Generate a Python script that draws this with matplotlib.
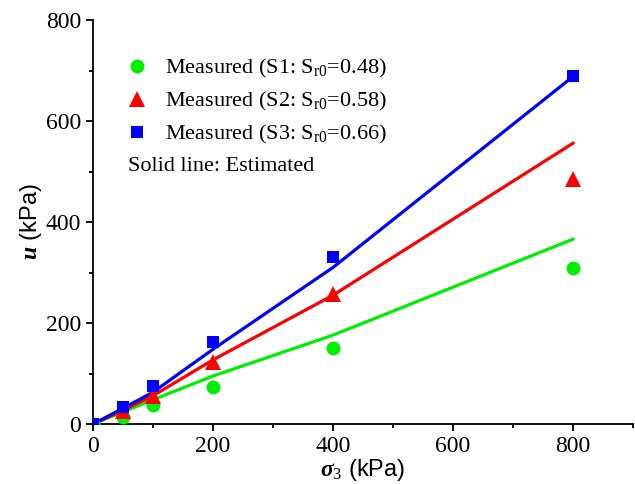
import matplotlib
matplotlib.use("Agg")
import matplotlib.pyplot as plt
from matplotlib.ticker import MultipleLocator

plt.rcParams["font.family"] = ["Liberation Serif", "DejaVu Serif"]
plt.rcParams["mathtext.fontset"] = "custom"
plt.rcParams["mathtext.rm"] = "Liberation Serif"
plt.rcParams["mathtext.it"] = "Liberation Serif:italic"
plt.rcParams["mathtext.bf"] = "Liberation Serif:bold"
plt.rcParams["mathtext.bfit"] = "Liberation Serif:italic:bold"

# confining pressure (kPa)
sigma3 = [0, 50, 100, 200, 400, 800]

# measured pore pressure (kPa)
meas_s1 = [0, 14, 37, 73, 150, 309]
meas_s2 = [0, 25, 55, 122, 257, 485]
meas_s3 = [0, 33, 75, 162, 331, 690]

# estimated (solid lines)
est_s1 = [0, 24, 48, 95, 176, 366]
est_s2 = [0, 27, 56, 127, 255, 556]
est_s3 = [0, 31, 63, 148, 310, 688]

labels = ["Measured (S1: S$_{\\mathrm{r0}}$=0.48)",
          "Measured (S2: S$_{\\mathrm{r0}}$=0.58)",
          "Measured (S3: S$_{\\mathrm{r0}}$=0.66)"]
colors = ["#00EE00", "#FF0000", "#0000FF"]
markers = ["o", "^", "s"]
msizes = [10, 11, 9]

fig = plt.figure(figsize=(6.35, 4.84), dpi=100)
ax = fig.add_axes([93 / 635, 60 / 484, 540 / 635, 404 / 484])

handles = []
for meas, est, c, m, ms, lab in zip([meas_s1, meas_s2, meas_s3],
                                    [est_s1, est_s2, est_s3],
                                    colors, markers, msizes, labels):
    ax.plot(sigma3, est, color=c, lw=2.3, zorder=2)
    h, = ax.plot(sigma3, meas, linestyle="none", marker=m, markersize=ms,
                 color=c, markeredgewidth=0, label=lab, zorder=3)
    handles.append(h)

leg = ax.legend(handles=handles, loc="upper left", bbox_to_anchor=(0.045, 0.93),
                frameon=False, fontsize=16, handletextpad=0.75, labelspacing=0.45,
                handlelength=1.0, borderaxespad=0)
ax.text(0.065, 0.638, "Solid line: Estimated", transform=ax.transAxes,
        fontsize=16, va="center", ha="left")

ax.set_xlim(0, 900)
ax.set_ylim(0, 800)
ax.xaxis.set_major_locator(MultipleLocator(200))
ax.xaxis.set_minor_locator(MultipleLocator(100))
ax.yaxis.set_major_locator(MultipleLocator(200))
ax.yaxis.set_minor_locator(MultipleLocator(100))
ax.tick_params(which="major", direction="out", length=5, width=1.3, labelsize=17)
ax.tick_params(which="minor", direction="out", length=3, width=1.3)

for s in ["top", "right"]:
    ax.spines[s].set_visible(False)
for s in ["left", "bottom"]:
    ax.spines[s].set_linewidth(1.3)

ax.set_xlabel("$\\mathbfit{\\sigma}_3$ (kPa)", fontsize=17,
              family=["Liberation Sans", "DejaVu Sans"], labelpad=0)
ax.set_ylabel("$\\mathbfit{u}$ (kPa)", fontsize=17,
              family=["Liberation Sans", "DejaVu Sans"], labelpad=1)

fig.savefig("out.png", dpi=100)
